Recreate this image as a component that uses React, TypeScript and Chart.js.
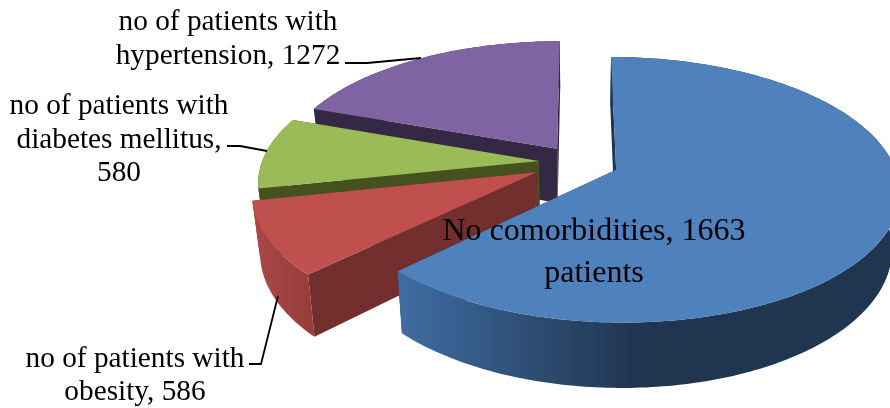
import React, { useEffect, useRef } from "react";
import { Chart, registerables } from "chart.js";

Chart.register(...registerables);

// Slice names and the text printed next to each slice.
const categories = ["No comorbidities", "no of patients with obesity", "no of patients with diabetes mellitus", "no of patients with hypertension"];
const labelLines = [
  ["No comorbidities, 1663", "patients"],
  ["no of patients with", "obesity, 586"],
  ["no of patients with", "diabetes mellitus,", "580"],
  ["no of patients with", "hypertension, 1272"],
];
// Sweep as drawn in the picture. The three smaller slices agree with their labels;
// the blue wedge is drawn at about 226 degrees, wider than its printed 1663 implies.
const drawnValues = [4090, 586, 580, 1272];
const explosionPct = [15, 16.5, 14, 13];

const topColors = ["#4f81bd", "#bf504d", "#9bbb59", "#8063a2"];
const faceColors = ["#1f3550", "#722f2d", "#45521f", "#352845"];
const wallStops = [
  ["#3f6da3", "#2f5078", "#1f3550", "#1f3550"],
  ["#a94745", "#a24441", "#9b403d", "#8f3b38"],
  ["#45521f", "#45521f", "#45521f", "#45521f"],
  ["#352845", "#352845", "#352845", "#352845"],
];
const wallSpans = [[397, 760], [256, 320], [256, 300], [317, 560]];

const labelLayout = [
  { x: 594, y: 240, lh: 42, size: 32 },
  { x: 135, y: 367, lh: 33, size: 29.3 },
  { x: 119, y: 114, lh: 33.5, size: 29.3 },
  { x: 228, y: 30, lh: 33.5, size: 29.3 },
];
const leaders = [
  [[345, 63], [367, 63], [421, 58]],
  [[227, 146], [240, 146], [267, 151]],
  [[249, 364], [261, 364], [278, 296]],
];

const view = { x0: 577.5, y0: 162.2, A: 277, B: 127.5, k: 0.15, depth: 55, shrink: 0.976 };

type Pt = [number, number];
function proj(u: number, v: number, low: boolean): Pt {
  const w = 1 / (1 - view.k * v);
  let x = view.A * u * w;
  let y = view.B * v * w;
  if (low) {
    x *= view.shrink;
    y += view.depth * w;
  }
  return [view.x0 + x, view.y0 + y];
}

function tracePoly(ctx: CanvasRenderingContext2D, pts: Pt[]) {
  ctx.beginPath();
  pts.forEach((p, i) => (i ? ctx.lineTo(p[0], p[1]) : ctx.moveTo(p[0], p[1])));
  ctx.closePath();
}

const pie3d = {
  id: "pie3d",
  beforeDatasetsDraw(chart: any) {
    const ctx: CanvasRenderingContext2D = chart.ctx;
    const arcs = chart.getDatasetMeta(0).data;
    ctx.save();
    // Back-to-front: hypertension, diabetes, obesity, then the blue slice.
    for (const i of [3, 2, 1, 0]) {
      const arc = arcs[i];
      const { startAngle, endAngle } = arc;
      const mid = (startAngle + endAngle) / 2;
      const e = arc.options.offset / 100;
      const cu = Math.cos(mid) * e;
      const cv = Math.sin(mid) * e;
      const steps = Math.max(12, Math.round(((endAngle - startAngle) * 180) / Math.PI));
      const ring: [number, number][] = [];
      for (let s = 0; s <= steps; s++) {
        const a = startAngle + ((endAngle - startAngle) * s) / steps;
        ring.push([cu + Math.cos(a), cv + Math.sin(a)]);
      }
      const top = ring.map(([u, v]) => proj(u, v, false));
      const low = ring.map(([u, v]) => proj(u, v, true));
      const apexT = proj(cu, cv, false);
      const apexL = proj(cu, cv, true);

      ctx.fillStyle = faceColors[i];
      tracePoly(ctx, [apexT, top[0], low[0], apexL]);
      ctx.fill();
      tracePoly(ctx, [apexT, top[steps], low[steps], apexL]);
      ctx.fill();

      const [gx0, gx1] = wallSpans[i];
      const grad = ctx.createLinearGradient(gx0, 0, gx1, 0);
      wallStops[i].forEach((c, n) => grad.addColorStop(n / 3, c));
      ctx.fillStyle = grad;
      tracePoly(ctx, [...top, ...low.slice().reverse()]);
      ctx.fill();

      ctx.fillStyle = arc.options.backgroundColor;
      tracePoly(ctx, [apexT, ...top]);
      ctx.fill();
    }
    ctx.restore();
    return false;
  },
  afterDraw(chart: any) {
    const ctx: CanvasRenderingContext2D = chart.ctx;
    ctx.save();
    ctx.strokeStyle = "#000";
    ctx.lineWidth = 1.8;
    for (const line of leaders) {
      ctx.beginPath();
      line.forEach((p, i) => (i ? ctx.lineTo(p[0], p[1]) : ctx.moveTo(p[0], p[1])));
      ctx.stroke();
    }
    ctx.fillStyle = "#000";
    ctx.textAlign = "center";
    ctx.textBaseline = "alphabetic";
    labelLines.forEach((lines, i) => {
      const l = labelLayout[i];
      ctx.font = `${l.size}px "Liberation Serif"`;
      lines.forEach((t, n) => ctx.fillText(t, l.x, l.y + n * l.lh));
    });
    ctx.restore();
  },
};

export default function App() {
  const ref = useRef<HTMLCanvasElement>(null);
  useEffect(() => {
    document.body.style.margin = "0";
    document.body.style.background = "#fff";
    const chart = new Chart(ref.current as HTMLCanvasElement, {
      type: "pie",
      data: {
        labels: categories,
        datasets: [
          {
            data: drawnValues,
            backgroundColor: topColors,
            offset: explosionPct,
            borderWidth: 0,
          },
        ],
      },
      options: {
        animation: false,
        responsive: false,
        plugins: { legend: { display: false }, tooltip: { enabled: false } },
      },
      plugins: [pie3d],
    } as any);
    return () => chart.destroy();
  }, []);
  return <canvas ref={ref} width={890} height={408} style={{ display: "block", width: 890, height: 408 }} />;
}
